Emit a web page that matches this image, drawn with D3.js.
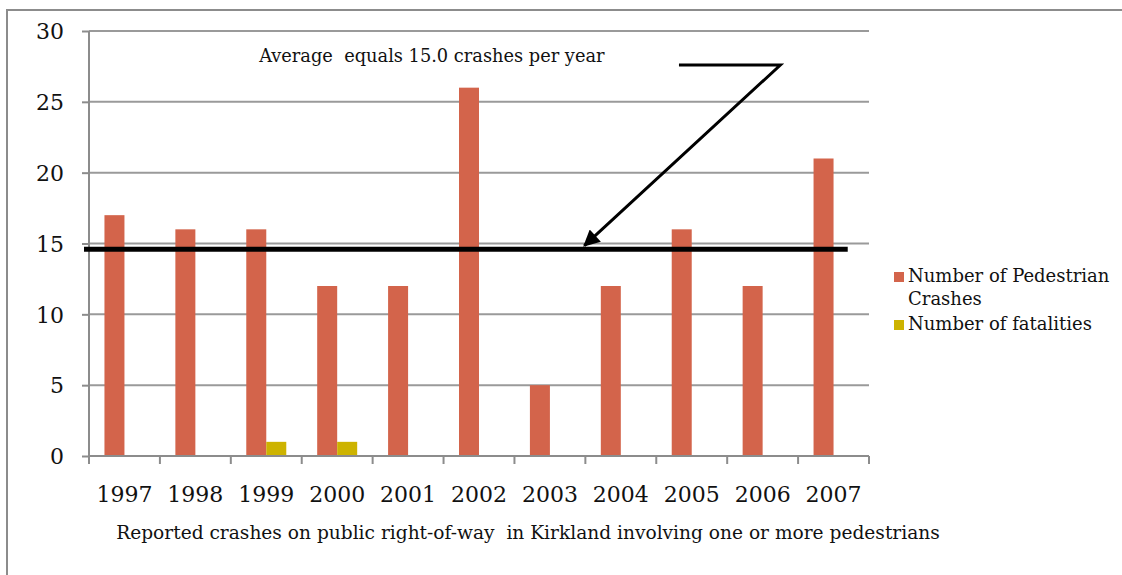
<!DOCTYPE html>
<html>
<head>
<meta charset="utf-8">
<script src="https://cdn.jsdelivr.net/npm/d3@7/dist/d3.min.js"></script>
<style>
	body { margin:0; background:#fff; }
	svg { display:block; font-family:"DejaVu Serif", "Liberation Serif", serif; }
	svg text { white-space:pre; }
	.axis path, .axis line { stroke:#8c8c8c; stroke-width:2; }
	.axis text { fill:#111; }
</style>
</head>
<body>
<svg width="1122" height="575"></svg>
<script>
(function() {

	//DATA
	var years = ['1997','1998','1999','2000','2001','2002','2003','2004','2005','2006','2007']
	var crashes = [17, 16, 16, 12, 12, 26, 5, 12, 16, 12, 21]
	var fatalities = [0, 0, 1, 1, 0, 0, 0, 0, 0, 0, 0]
	var seriesNames = ['Number of Pedestrian Crashes', 'Number of fatalities']
	var yTicks = [0, 5, 10, 15, 20, 25, 30]
	var averageDrawn = 14.6
	var averageLabel = 'Average  equals 15.0 crashes per year'
	var xTitle = 'Reported crashes on public right-of-way  in Kirkland involving one or more pedestrians'

	//VARS
	var colors = ['#D3644B', '#CDB300']
	var fontFam = '"DejaVu Serif", "Liberation Serif", serif'
	var margin = { top:31, left:89, right:253, bottom:119 }
	var width = 1122 - margin.left - margin.right
	var height = 575 - margin.top - margin.bottom
	var barW = 20

	var svg = d3.select('svg')

	// outer frame
	svg.append('path')
		.attr('d', 'M7,580 L7,10 L1130,10')
		.attr('fill', 'none')
		.attr('stroke', '#8c8c8c')
		.attr('stroke-width', 2)

	var x = d3.scaleBand().domain(years).range([margin.left, margin.left + width])
	var y = d3.scaleLinear().domain([0, 30]).range([margin.top + height, margin.top])
	var sub = d3.scaleBand().domain(seriesNames).range([0, barW * 2])
	var color = d3.scaleOrdinal().domain(seriesNames).range(colors)
	var bw = x.bandwidth()

	// gridlines
	svg.append('g').selectAll('line')
		.data(yTicks.slice(1))
		.enter().append('line')
		.attr('x1', margin.left)
		.attr('x2', margin.left + width)
		.attr('y1', function(d) { return y(d) })
		.attr('y2', function(d) { return y(d) })
		.attr('stroke', '#9a9a9a')
		.attr('stroke-width', 2)

	// bars
	var rows = years.map(function(yr, i) {
		return { year: yr, values: [crashes[i], fatalities[i]] }
	})

	var groups = svg.append('g').selectAll('g')
		.data(rows)
		.enter().append('g')
		.attr('transform', function(d) { return 'translate(' + (x(d.year) + (bw - barW * 2) / 2) + ',0)' })

	groups.selectAll('rect')
		.data(function(d) { return d.values.map(function(v, i) { return { key: seriesNames[i], value: v } }) })
		.enter().append('rect')
		.attr('x', function(d) { return sub(d.key) })
		.attr('width', barW)
		.attr('y', function(d) { return y(d.value) })
		.attr('height', function(d) { return y(0) - y(d.value) })
		.attr('fill', function(d) { return color(d.key) })

	// axes
	var axisY = d3.axisLeft(y).tickValues(yTicks).tickSize(7).tickPadding(18)
	svg.append('g')
		.attr('class', 'axis axis--y')
		.attr('transform', 'translate(' + margin.left + ',0)')
		.call(axisY)
		.attr('font-family', fontFam)
		.call(function(g) { g.select('.domain').attr('d', 'M0,' + y(0) + 'V' + y(30)) })
		.selectAll('text')
		.attr('font-size', 22)
		.attr('dy', '0.35em')

	var axisX = d3.axisBottom(x).tickSize(0).tickPadding(30)
	var gx = svg.append('g')
		.attr('class', 'axis axis--x')
		.attr('transform', 'translate(0,' + y(0) + ')')
		.call(axisX)
		.attr('font-family', fontFam)
	gx.select('.domain').attr('d', 'M' + margin.left + ',0H' + (margin.left + width))
	gx.selectAll('text').attr('font-size', 22).attr('dy', '0.71em')
	// category separators
	gx.selectAll('.sep')
		.data(years.concat(['end']))
		.enter().append('line')
		.attr('class', 'sep')
		.attr('x1', function(d) { return d === 'end' ? margin.left + width : x(d) })
		.attr('x2', function(d) { return d === 'end' ? margin.left + width : x(d) })
		.attr('y1', 0)
		.attr('y2', 8)

	svg.append('text')
		.attr('x', 528)
		.attr('y', 539)
		.attr('text-anchor', 'middle')
		.attr('font-size', 18.6)
		.attr('fill', '#111')
		.text(xTitle)

	// average line
	svg.append('line')
		.attr('x1', margin.left - 5)
		.attr('x2', x('2007') + bw * 0.7)
		.attr('y1', y(averageDrawn))
		.attr('y2', y(averageDrawn))
		.attr('stroke', '#000')
		.attr('stroke-width', 5)

	svg.append('text')
		.attr('x', x('1999') + bw * 0.4)
		.attr('y', y(27.8))
		.attr('font-size', 17.8)
		.attr('fill', '#111')
		.text(averageLabel)

	// arrow
	svg.append('defs').append('marker')
		.attr('id', 'head')
		.attr('viewBox', '0 0 10 10')
		.attr('refX', 9).attr('refY', 5)
		.attr('markerWidth', 6.5).attr('markerHeight', 5.5)
		.attr('markerUnits', 'strokeWidth')
		.attr('orient', 'auto')
		.append('path').attr('d', 'M0,0L10,5L0,10z').attr('fill', '#000')

	var arrowPts = [
		[x('2005') + bw * 0.32, y(27.6)],
		[x('2006') + bw * 0.75, y(27.6)],
		[x('2004') - 1, y(14.85)]
	]
	svg.append('path')
		.attr('d', d3.line()(arrowPts))
		.attr('fill', 'none')
		.attr('stroke', '#000')
		.attr('stroke-width', 3)
		.attr('marker-end', 'url(#head)')

	// legend
	var legend = svg.append('g').attr('transform', 'translate(894,272)')
	var legendRows = [
		{ key: seriesNames[0], lines: ['Number of Pedestrian', 'Crashes'], y: 0 },
		{ key: seriesNames[1], lines: ['Number of fatalities'], y: 48 }
	]
	var li = legend.selectAll('g')
		.data(legendRows)
		.enter().append('g')
		.attr('transform', function(d) { return 'translate(0,' + d.y + ')' })
	li.append('rect')
		.attr('width', 10).attr('height', 10)
		.attr('fill', function(d) { return color(d.key) })
	li.append('text')
		.attr('x', 14)
		.attr('y', 10)
		.attr('font-size', 18)
		.attr('fill', '#111')
		.selectAll('tspan')
		.data(function(d) { return d.lines })
		.enter().append('tspan')
		.attr('x', 14)
		.attr('dy', function(d, i) { return i ? 23 : 0 })
		.text(function(d) { return d })

})()
</script>
</body>
</html>
